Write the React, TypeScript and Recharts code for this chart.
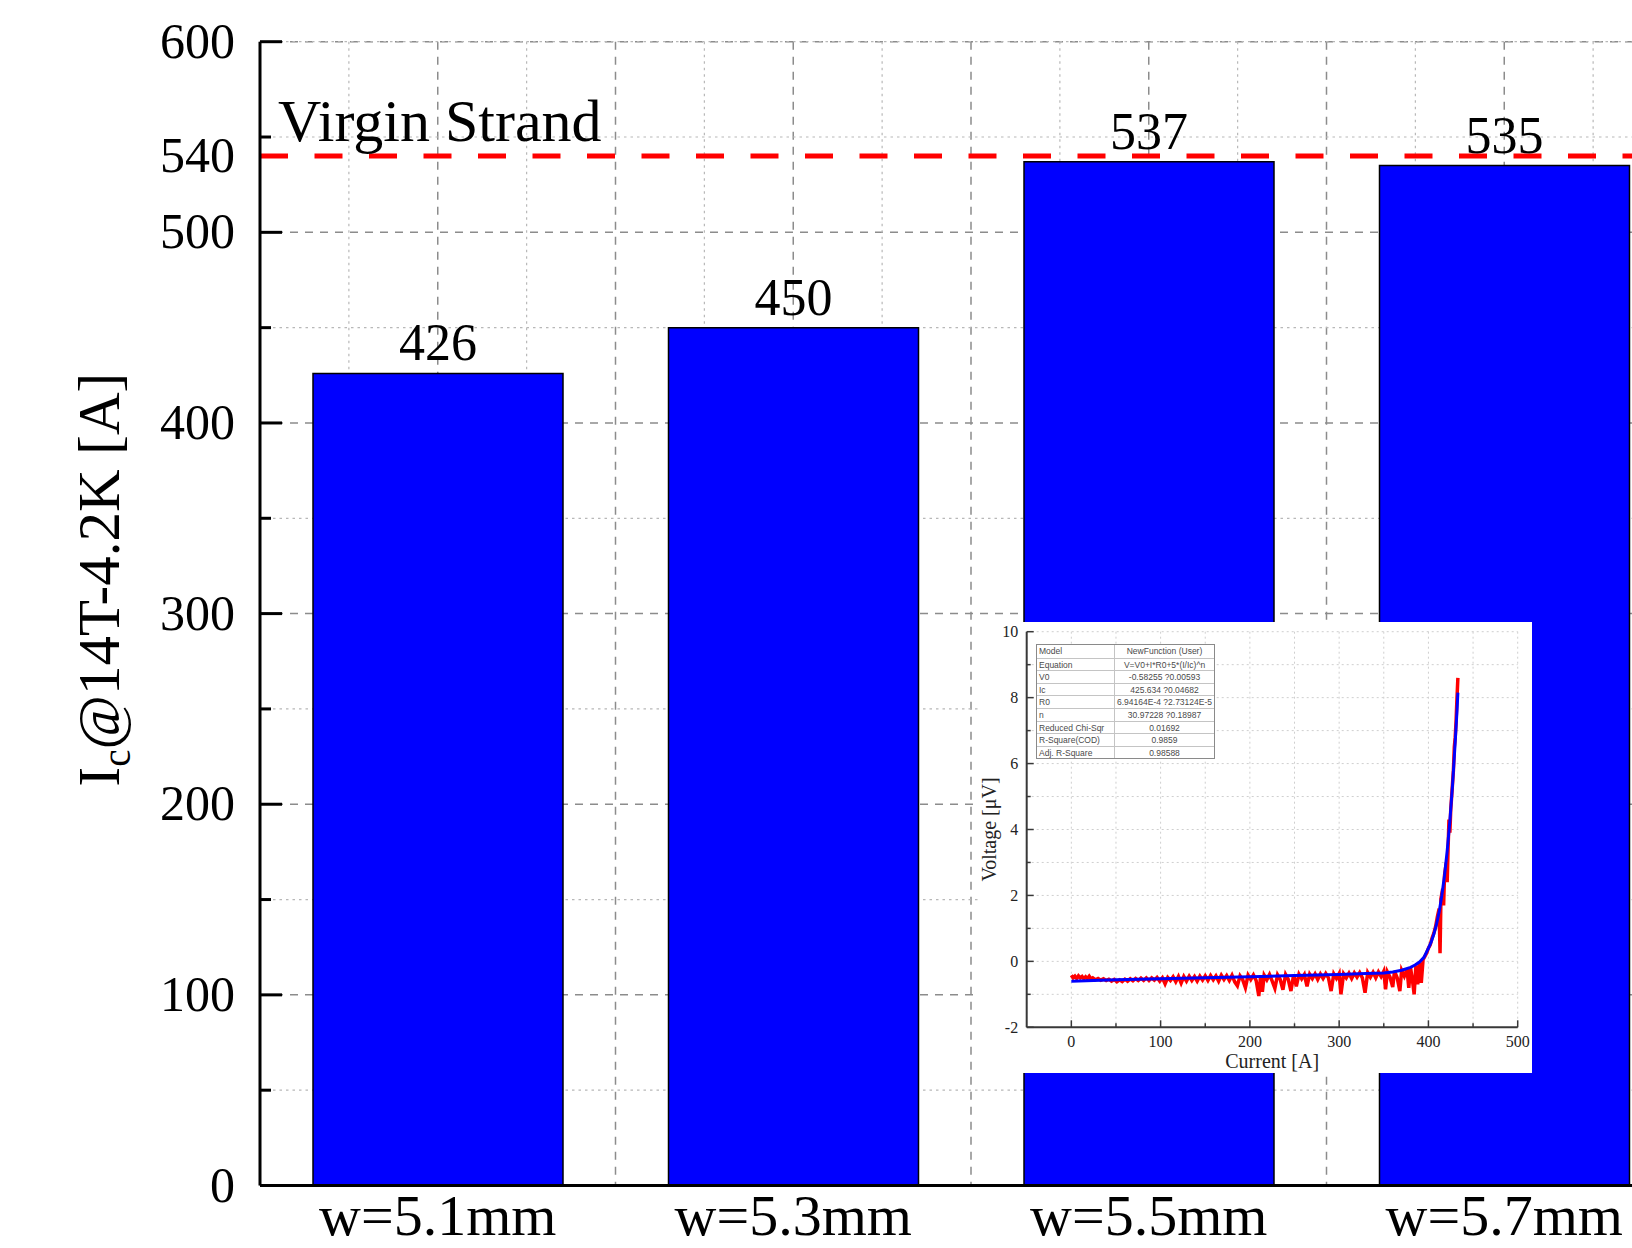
import React from 'react';
import {
  BarChart, Bar, XAxis, YAxis, CartesianGrid, ReferenceLine, LabelList,
  LineChart, Line,
} from 'recharts';

const SERIF = '"Liberation Serif", "Times New Roman", serif';
const SANS = '"Liberation Sans", Arial, sans-serif';

// main bar chart
const widths = [5.1, 5.3, 5.5, 5.7];
const icValues = [426, 450, 537, 535];
const virginIc = 540;
const yTicks = [0, 100, 200, 300, 400, 500, 600];
const yMinorTicks = [50, 150, 250, 350, 450, 550];
const wMajorTicks = [5.1, 5.2, 5.3, 5.4, 5.5, 5.6, 5.7];
const wMinorTicks = [5.05, 5.15, 5.25, 5.35, 5.45, 5.55, 5.65, 5.75];

// inset V-I curve
const curTicks = [0, 100, 200, 300, 400, 500];
const curMinorTicks = [50, 150, 250, 350, 450];
const voltTicks = [-2, 0, 2, 4, 6, 8, 10];
const voltMinorTicks = [-1, 1, 3, 5, 7, 9];

const measuredIV: [number, number][] = [
  [0, -0.42], [2, -0.5], [4, -0.45], [6, -0.52], [8, -0.44], [10, -0.5], [12, -0.46], [14, -0.53],
  [16, -0.47], [18, -0.52], [20, -0.45], [22, -0.53], [24, -0.5], [27, -0.56], [30, -0.52], [33, -0.57],
  [36, -0.53], [39, -0.58], [42, -0.54], [45, -0.6], [48, -0.55], [51, -0.62], [54, -0.56], [57, -0.61],
  [60, -0.54], [63, -0.6], [66, -0.53], [69, -0.59], [72, -0.52], [75, -0.58], [78, -0.51], [81, -0.58],
  [84, -0.5], [87, -0.58], [90, -0.5], [93, -0.57], [96, -0.49], [99, -0.6], [102, -0.5], [105, -0.68],
  [108, -0.49], [111, -0.58], [114, -0.47], [117, -0.62], [120, -0.46], [123, -0.66], [126, -0.46], [129, -0.6],
  [132, -0.45], [135, -0.58], [138, -0.46], [141, -0.6], [144, -0.45], [147, -0.57], [150, -0.44], [153, -0.58],
  [156, -0.43], [159, -0.56], [162, -0.44], [165, -0.6], [168, -0.42], [171, -0.55], [174, -0.43], [177, -0.58],
  [180, -0.42], [183, -0.62], [186, -0.74], [189, -0.44], [192, -0.56], [195, -0.8], [198, -0.42], [201, -0.55],
  [204, -0.41], [207, -0.58], [210, -1.05], [212, -0.45], [214, -0.92], [216, -0.42], [219, -0.56], [222, -0.4],
  [225, -0.6], [228, -0.82], [231, -0.41], [234, -0.55], [237, -0.86], [240, -0.4], [243, -0.55], [246, -0.9],
  [249, -0.41], [252, -0.76], [255, -0.39], [258, -0.53], [261, -0.4], [264, -0.76], [267, -0.39], [270, -0.52],
  [273, -0.38], [276, -0.55], [279, -0.38], [282, -0.52], [285, -0.37], [288, -0.5], [291, -0.9], [294, -0.38],
  [297, -0.52], [300, -0.37], [302, -1.0], [305, -0.38], [308, -0.5], [311, -0.36], [314, -0.52], [317, -0.35],
  [320, -0.48], [323, -0.34], [326, -0.5], [329, -0.95], [332, -0.34], [335, -0.48], [338, -0.33], [341, -0.5],
  [344, -0.32], [347, -0.46], [350, -0.3], [352, -0.85], [354, -0.32], [357, -0.48], [360, -0.78], [362, -0.3],
  [365, -0.5], [368, -0.9], [370, -0.27], [373, -0.45], [376, -0.24], [378, -0.8], [380, -0.2], [382, -0.55],
  [384, -1.0], [386, -0.12], [388, -0.7], [390, -0.05], [392, -0.65], [394, 0.05], [396, 0.15], [398, 0.25],
  [400, 0.4], [402, 0.5], [404, 0.7], [406, 0.85], [408, 1.05], [410, 1.35], [412, 1.6], [413, 0.25],
  [414, 1.9], [416, 2.2], [417, 1.7], [418, 2.6], [420, 3.0], [421, 2.4], [422, 3.4], [423, 4.3],
  [424, 3.9], [425, 4.6], [426, 5.0], [427, 5.4], [428, 5.8], [429, 6.5], [430, 6.8], [431, 7.3],
  [432, 8.0], [433, 8.6],
];

const fitIV: [number, number][] = [
  [0, -0.6], [50, -0.56], [100, -0.53], [150, -0.5], [200, -0.47], [250, -0.43], [300, -0.4],
  [330, -0.37], [350, -0.35], [360, -0.32], [370, -0.27], [380, -0.18], [385, -0.11], [390, -0.02],
  [395, 0.12], [400, 0.4], [403, 0.58], [406, 0.82], [409, 1.12], [412, 1.5], [415, 2.0],
  [418, 2.6], [421, 3.35], [424, 4.25], [427, 5.35], [430, 6.65], [432, 7.6], [433, 8.15],
];

const fitTable: [string, string][] = [
  ['Model', 'NewFunction (User)'],
  ['Equation', 'V=V0+I*R0+5*(I/Ic)^n'],
  ['V0', '-0.58255 ?0.00593'],
  ['Ic', '425.634 ?0.04682'],
  ['R0', '6.94164E-4 ?2.73124E-5'],
  ['n', '30.97228 ?0.18987'],
  ['Reduced Chi-Sqr', '0.01692'],
  ['R-Square(COD)', '0.9859'],
  ['Adj. R-Square', '0.98588'],
];

const barData = widths.map((w, i) => ({ name: `w=${w}mm`, w, ic: icValues[i] }));

const insetData = [
  ...measuredIV.map(([I, v]) => ({ I, red: v })),
  ...fitIV.map(([I, v]) => ({ I, fit: v })),
].sort((a, b) => a.I - b.I);

// ---- main chart ticks / labels
const MainYTick = (p: any) => {
  const { x, y, payload } = p;
  const v = payload.value;
  const isVirgin = v === virginIc;
  const isMajor = !isVirgin && v % 100 === 0;
  return (
    <g>
      {!isVirgin && (
        <line x1={x} x2={x + (isMajor ? 22 : 11)} y1={y} y2={y} stroke="#000" strokeWidth={3} />
      )}
      {(isMajor || isVirgin) && (
        <text x={x - 25} y={y + 16} textAnchor="end" fontSize={50} fontFamily={SERIF} fill="#000">
          {v}
        </text>
      )}
    </g>
  );
};

const MainXTick = (p: any) => (
  <text x={p.x} y={p.y + 49} textAnchor="middle" fontSize={58} fontFamily={SERIF} fill="#000">
    {p.payload.value}
  </text>
);

const YTitle = (p: any) => {
  const vb = p.viewBox;
  const cx = vb.x + 59;
  const cy = vb.y + vb.height / 2 - 34;
  return (
    <text transform={`rotate(-90 ${cx} ${cy})`} x={cx} y={cy} textAnchor="middle"
      fontSize={59} fontFamily={SERIF} fill="#000">
      I<tspan fontSize={39} dy={11}>c</tspan><tspan dy={-11}>@14T-4.2K [A]</tspan>
    </text>
  );
};

const VirginLabel = (p: any) => (
  <text x={p.viewBox.x + 18} y={p.viewBox.y - 15.5} fontSize={60} fontFamily={SERIF} fill="#000">
    Virgin Strand
  </text>
);

// ---- inset ticks / labels
const FRAME = '#383838';

const InsetYTick = (p: any) => {
  const { x, y, payload } = p;
  const major = payload.value % 2 === 0;
  return (
    <g>
      <line x1={x} x2={x + (major ? 7 : 4)} y1={y} y2={y} stroke={FRAME} strokeWidth={1.5} />
      {major && (
        <text x={x - 8.5} y={y + 5.5} textAnchor="end" fontSize={16} fontFamily={SERIF} fill="#222">
          {payload.value}
        </text>
      )}
    </g>
  );
};

const InsetRightTick = (p: any) => {
  const major = p.payload.value % 2 === 0;
  return <line x1={p.x} x2={p.x - (major ? 7 : 4)} y1={p.y} y2={p.y} stroke={FRAME} strokeWidth={1.5} />;
};

const InsetXTick = (p: any) => {
  const { x, y, payload } = p;
  const major = payload.value % 100 === 0;
  return (
    <g>
      <line x1={x} x2={x} y1={y} y2={y - (major ? 7 : 4)} stroke={FRAME} strokeWidth={1.5} />
      {major && (
        <text x={x} y={y + 20} textAnchor="middle" fontSize={16} fontFamily={SERIF} fill="#222">
          {payload.value}
        </text>
      )}
    </g>
  );
};

const InsetTopTick = (p: any) => {
  const major = p.payload.value % 100 === 0;
  return <line x1={p.x} x2={p.x} y1={p.y} y2={p.y + (major ? 7 : 4)} stroke={FRAME} strokeWidth={1.5} />;
};

const CurrentTitle = (p: any) => {
  const vb = p.viewBox;
  return (
    <text x={vb.x + vb.width / 2} y={vb.y + vb.height - 5} textAnchor="middle"
      fontSize={20} fontFamily={SERIF} fill="#222">
      Current [A]
    </text>
  );
};

const VoltageTitle = (p: any) => {
  const vb = p.viewBox;
  const cx = vb.x + 17;
  const cy = vb.y + vb.height / 2;
  return (
    <text transform={`rotate(-90 ${cx} ${cy})`} x={cx} y={cy} textAnchor="middle"
      fontSize={20} fontFamily={SERIF} fill="#222">
      Voltage [μV]
    </text>
  );
};

function FitTable() {
  return (
    <div style={{
      position: 'absolute', left: 57, top: 22, width: 179,
      border: '1.5px solid #8a8a8a', background: '#fff',
      fontFamily: SANS, fontSize: 8.5, color: '#4a4a4a', boxSizing: 'border-box',
    }}>
      {fitTable.map(([k, v], i) => (
        <div key={k} style={{
          display: 'flex', height: 12.6, lineHeight: '12.6px',
          borderTop: i === 0 ? 'none' : '1px solid #c4c4c4', boxSizing: 'border-box',
        }}>
          <div style={{ width: 75, paddingLeft: 2, borderRight: '1px solid #c4c4c4', whiteSpace: 'nowrap' }}>{k}</div>
          <div style={{ flex: 1, textAlign: 'center', whiteSpace: 'nowrap' }}>{v}</div>
        </div>
      ))}
    </div>
  );
}

function Inset() {
  const xAll = [...curTicks, ...curMinorTicks];
  const yAll = [...voltTicks, ...voltMinorTicks];
  return (
    <div style={{ position: 'absolute', left: 979, top: 622, width: 553, height: 451, background: '#fff' }}>
      <LineChart width={553} height={451} data={insetData}
        margin={{ top: 9.7, right: 14.3, bottom: 0, left: 0 }}>
        <CartesianGrid stroke="#cfcfcf" strokeDasharray="2 3" strokeWidth={1} />
        <XAxis type="number" dataKey="I" domain={[-50, 500]} ticks={xAll} interval={0} allowDataOverflow
          height={45.7} tickSize={0} tickMargin={0} tickLine={false}
          axisLine={{ stroke: FRAME, strokeWidth: 2 }} tick={InsetXTick} label={CurrentTitle} />
        <XAxis xAxisId="top" orientation="top" type="number" dataKey="I" domain={[-50, 500]} ticks={xAll}
          interval={0} allowDataOverflow height={0} tickSize={0} tickMargin={0} tickLine={false}
          axisLine={{ stroke: FRAME, strokeWidth: 2 }} tick={InsetTopTick} />
        <YAxis type="number" domain={[-2, 10]} ticks={yAll} interval={0} allowDataOverflow width={47.7}
          tickSize={0} tickMargin={0} tickLine={false}
          axisLine={{ stroke: FRAME, strokeWidth: 2 }} tick={InsetYTick} label={VoltageTitle} />
        <YAxis yAxisId="right" orientation="right" type="number" domain={[-2, 10]} ticks={yAll} interval={0}
          allowDataOverflow width={0} tickSize={0} tickMargin={0} tickLine={false}
          axisLine={{ stroke: FRAME, strokeWidth: 2 }} tick={InsetRightTick} />
        <Line dataKey="red" type="linear" stroke="#ff0000" strokeWidth={3.5} dot={false}
          connectNulls isAnimationActive={false} />
        <Line dataKey="fit" type="linear" stroke="#0000ff" strokeWidth={3} dot={false}
          connectNulls isAnimationActive={false} />
      </LineChart>
      <FitTable />
    </div>
  );
}

export default function App() {
  return (
    <div style={{
      position: 'absolute', left: 0, top: 0, width: 1632, height: 1248,
      overflow: 'hidden', background: '#fff',
    }}>
      <BarChart width={1700} height={1248} data={barData} barSize={250}
        margin={{ top: 41.7, right: 18, bottom: 0, left: 60 }}>
        <XAxis xAxisId="wMaj" type="number" dataKey="w" domain={[5.0, 5.8]} ticks={wMajorTicks}
          allowDataOverflow hide />
        <XAxis xAxisId="wMin" type="number" dataKey="w" domain={[5.0, 5.8]} ticks={wMinorTicks}
          allowDataOverflow hide />
        <YAxis yAxisId="yMaj" type="number" domain={[0, 600]} ticks={yTicks} allowDataOverflow hide />
        <YAxis yAxisId="yMin" type="number" domain={[0, 600]} ticks={yMinorTicks} allowDataOverflow hide />
        <CartesianGrid xAxisId="wMaj" yAxisId="yMaj" stroke="#8c8c8c" strokeWidth={1.5} strokeDasharray="8 7" />
        <CartesianGrid xAxisId="wMin" yAxisId="yMin" stroke="#b8b8b8" strokeWidth={1.2} strokeDasharray="2.5 4" />
        <XAxis dataKey="name" interval={0} height={62.5} tickSize={0} tickMargin={0} tickLine={false}
          axisLine={{ stroke: '#000', strokeWidth: 3 }} tick={MainXTick} />
        <XAxis xAxisId="top" orientation="top" dataKey="name" height={0} tick={false} tickLine={false}
          axisLine={{ stroke: '#000', strokeWidth: 3 }} />
        <YAxis type="number" width={200} domain={[0, 600]} ticks={[...yTicks, ...yMinorTicks, virginIc]}
          interval={0} allowDataOverflow tickSize={0} tickMargin={0} tickLine={false}
          axisLine={{ stroke: '#000', strokeWidth: 3 }} tick={MainYTick} label={YTitle} />
        <ReferenceLine y={virginIc} stroke="#ff0000" strokeWidth={5} strokeDasharray="28 26.5"
          label={VirginLabel} />
        <Bar dataKey="ic" fill="#0000ff" stroke="#000" strokeWidth={1.5} isAnimationActive={false}>
          <LabelList dataKey="ic" position="top" offset={13} fontSize={52} fill="#000" fontFamily={SERIF} />
        </Bar>
      </BarChart>
      <Inset />
    </div>
  );
}
